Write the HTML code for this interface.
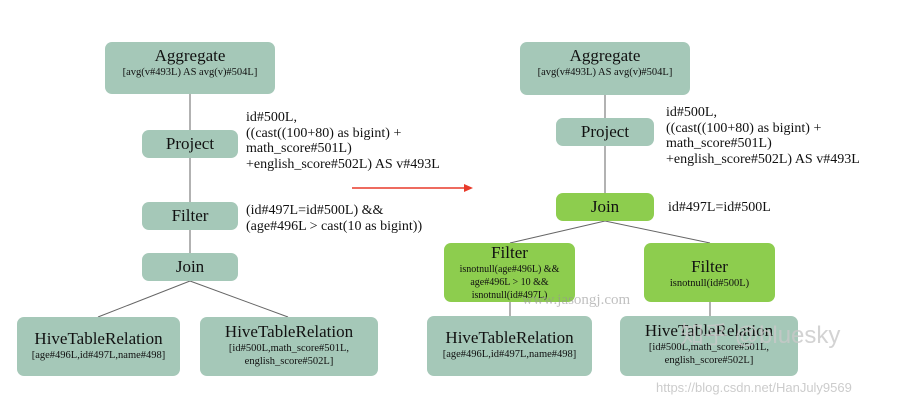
<!DOCTYPE html>
<html><head><style>
body{margin:0;width:905px;height:408px;background:#fff;position:relative;overflow:hidden;font-family:"Liberation Serif",serif;color:#111}
.b{position:absolute;background:#a5c8b8;border-radius:7px;text-align:center;box-sizing:border-box}
.g{background:#8dcd4e}
.t{font-size:17px;line-height:20px}
.s{font-size:10.5px;line-height:13px}
.a{position:absolute;font-size:14px;line-height:15.5px;white-space:nowrap}
</style></head><body>
<svg width="905" height="408" style="position:absolute;left:0;top:0">
<g stroke="#666" stroke-width="1">
<line x1="190" y1="94" x2="190" y2="253"/>
<line x1="190" y1="281" x2="98" y2="317"/>
<line x1="190" y1="281" x2="288" y2="317"/>
<line x1="605" y1="95" x2="605" y2="193"/>
<line x1="605" y1="221" x2="510" y2="243"/>
<line x1="605" y1="221" x2="710" y2="243"/>
<line x1="510" y1="302" x2="510" y2="316"/>
<line x1="710" y1="302" x2="710" y2="316"/>
</g>
<line x1="352" y1="188" x2="466" y2="188" stroke="#e83a2a" stroke-width="1.5"/>
<polygon points="473,188 464,184 464,192" fill="#e83a2a"/>
</svg>
<div class="b" style="left:105px;top:42px;width:170px;height:52px;padding-top:4px"><div class="t">Aggregate</div><div class="s">[avg(v#493L) AS avg(v)#504L]</div></div>
<div class="b t" style="left:142px;top:130px;width:96px;height:28px;padding-top:4px">Project</div>
<div class="b t" style="left:142px;top:202px;width:96px;height:28px;padding-top:4px">Filter</div>
<div class="b t" style="left:142px;top:253px;width:96px;height:28px;padding-top:4px">Join</div>
<div class="b" style="left:17px;top:317px;width:163px;height:59px;padding-top:12px"><div class="t">HiveTableRelation</div><div class="s">[age#496L,id#497L,name#498]</div></div>
<div class="b" style="left:200px;top:317px;width:178px;height:59px;padding-top:5px"><div class="t">HiveTableRelation</div><div class="s">[id#500L,math_score#501L,<br>english_score#502L]</div></div>
<div class="a" style="left:246px;top:110px">id#500L,<br>((cast((100+80) as bigint) +<br>math_score#501L)<br>+english_score#502L) AS v#493L</div>
<div class="a" style="left:246px;top:203px">(id#497L=id#500L) &amp;&amp;<br>(age#496L &gt; cast(10 as bigint))</div>

<div class="b" style="left:520px;top:42px;width:170px;height:53px;padding-top:4px"><div class="t">Aggregate</div><div class="s">[avg(v#493L) AS avg(v)#504L]</div></div>
<div class="b t" style="left:556px;top:118px;width:98px;height:28px;padding-top:4px">Project</div>
<div class="b g t" style="left:556px;top:193px;width:98px;height:28px;padding-top:4px">Join</div>
<div class="b g" style="left:444px;top:243px;width:131px;height:59px;padding-top:0px"><div class="t">Filter</div><div class="s" style="font-size:10px">isnotnull(age#496L) &amp;&amp;<br>age#496L &gt; 10 &amp;&amp;<br>isnotnull(id#497L)</div></div>
<div class="b g" style="left:644px;top:243px;width:131px;height:59px;padding-top:14px"><div class="t">Filter</div><div class="s">isnotnull(id#500L)</div></div>
<div class="b" style="left:427px;top:316px;width:165px;height:60px;padding-top:12px"><div class="t">HiveTableRelation</div><div class="s">[age#496L,id#497L,name#498]</div></div>
<div class="b" style="left:620px;top:316px;width:178px;height:60px;padding-top:5px"><div class="t">HiveTableRelation</div><div class="s">[id#500L,math_score#501L,<br>english_score#502L]</div></div>
<div class="a" style="left:666px;top:105px">id#500L,<br>((cast((100+80) as bigint) +<br>math_score#501L)<br>+english_score#502L) AS v#493L</div>
<div class="a" style="left:668px;top:200px">id#497L=id#500L</div>
<div class="a" style="left:522px;top:293px;color:rgba(150,150,150,0.6);font-size:15px">www.jasongj.com</div>
<div class="a" style="left:680px;top:322px;color:rgba(200,200,200,0.8);font-family:'Liberation Sans','Noto Sans CJK SC',sans-serif;font-size:24px;line-height:28px">知乎 @bluesky</div>
<div class="a" style="left:656px;top:380px;color:#ccc;font-family:'Liberation Sans',sans-serif;font-size:13px">https://blog.csdn.net/HanJuly9569</div>
</body></html>
